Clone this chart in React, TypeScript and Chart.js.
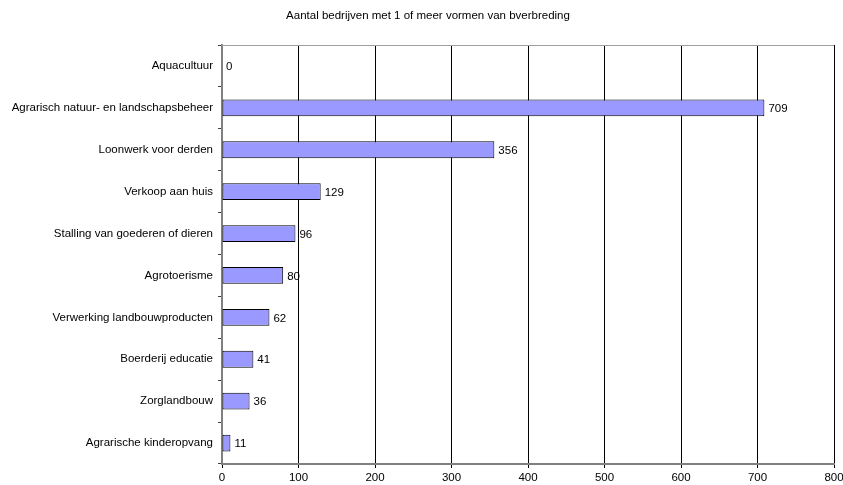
import React, { useEffect, useRef } from "react";
import { Chart, registerables } from "chart.js";

Chart.register(...registerables);

const chartTitle = "Aantal bedrijven met 1 of meer vormen van bverbreding";
const categories = [
  "Aquacultuur",
  "Agrarisch natuur- en landschapsbeheer",
  "Loonwerk voor derden",
  "Verkoop aan huis",
  "Stalling van goederen of dieren",
  "Agrotoerisme",
  "Verwerking landbouwproducten",
  "Boerderij educatie",
  "Zorglandbouw",
  "Agrarische kinderopvang",
];
const values = [0, 709, 356, 129, 96, 80, 62, 41, 36, 11];
const xMin = 0;
const xMax = 800;
const xStep = 100;

const FONT = "Arial, 'Liberation Sans', sans-serif";
const FS = 11.5;

export default function App() {
  const ref = useRef<HTMLCanvasElement | null>(null);

  useEffect(() => {
    document.body.style.margin = "0";
    const canvas = ref.current!;
    const extras = {
      id: "extras",
      afterDraw(chart: any) {
        const ctx = chart.ctx;
        const area = chart.chartArea;
        ctx.save();
        ctx.strokeStyle = "#a0a0a0";
        ctx.lineWidth = 1;
        ctx.beginPath();
        ctx.moveTo(area.left, area.top + 0.5);
        ctx.lineTo(area.right, area.top + 0.5);
        ctx.stroke();
        ctx.fillStyle = "#000";
        ctx.font = `${FS}px ${FONT}`;
        ctx.textAlign = "center";
        ctx.textBaseline = "middle";
        ctx.fillText(chartTitle, 428, 16);
        const meta = chart.getDatasetMeta(0);
        ctx.textAlign = "left";
        meta.data.forEach((el: any, i: number) => {
          ctx.fillText(String(values[i]), el.x + 4, el.y + 1);
        });
        ctx.restore();
      },
    };
    const chart = new Chart(canvas, {
      type: "bar",
      data: {
        labels: categories,
        datasets: [
          {
            data: values,
            backgroundColor: "#9999FF",
            borderColor: "#000000",
            borderWidth: 1,
            borderSkipped: false,
            barPercentage: 0.4,
            categoryPercentage: 1,
          },
        ],
      },
      options: {
        indexAxis: "y",
        animation: false,
        responsive: false,
        maintainAspectRatio: false,
        layout: { padding: { top: 45, right: 9, left: 0, bottom: 0 } },
        plugins: {
          legend: { display: false },
          tooltip: { enabled: false },
          title: { display: false },
        },
        scales: {
          x: {
            min: xMin,
            max: xMax,
            afterFit: (s: any) => {
              s.height = 21;
              s.paddingLeft = 0;
              s.paddingRight = 0;
            },
            ticks: {
              stepSize: xStep,
              color: "#000",
              font: { family: FONT, size: FS },
              padding: 3,
            },
            grid: {
              color: "#000",
              lineWidth: 1,
              tickLength: 4,
              drawTicks: true,
            },
            border: { color: "#808080", width: 2 },
          },
          y: {
            afterFit: (s: any) => {
              s.width = 222;
              s.paddingTop = 0;
              s.paddingBottom = 0;
            },
            ticks: {
              color: "#000",
              font: { family: FONT, size: FS },
              padding: 5,
              autoSkip: false,
            },
            grid: {
              offset: true,
              drawOnChartArea: false,
              drawTicks: true,
              tickLength: 4,
              color: "#404040",
            },
            border: { color: "#808080", width: 2 },
          },
        },
      },
      plugins: [extras],
    });
    return () => chart.destroy();
  }, []);

  return (
    <div style={{ position: "absolute", left: 0, top: 0, width: 843, height: 485 }}>
      <canvas ref={ref} width={843} height={485} style={{ width: 843, height: 485 }} />
    </div>
  );
}
